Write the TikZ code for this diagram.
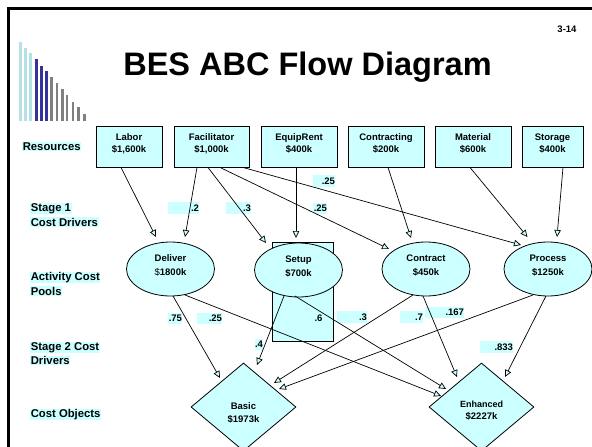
\documentclass[tikz,border=0pt]{standalone}
\usepackage{fontspec}
\setmainfont{Liberation Sans}
\usetikzlibrary{shapes.geometric,arrows.meta}
\definecolor{cyanbg}{HTML}{CCFFFF}
\definecolor{barlight}{HTML}{B4E1E6}
\definecolor{bardark}{HTML}{333399}
\definecolor{bargray}{HTML}{808080}
% highlighted line of a row label
\newcommand\cbg[1]{{\setlength{\fboxsep}{0.6pt}\colorbox{cyanbg}{#1}}}

\begin{document}
\begin{tikzpicture}[x=1pt,y=-1pt,
  resbox/.style={draw, line width=0.9pt, fill=cyanbg, minimum height=41, inner sep=0,
    align=center, text depth=7pt, font=\bfseries\fontsize{9.5}{12}\selectfont},
  pool/.style={ellipse, draw, line width=0.8pt, fill=cyanbg, minimum width=88,
    minimum height=54, inner sep=0, align=center, text depth=8pt,
    font=\bfseries\fontsize{9.5}{14}\selectfont},
  obj/.style={diamond, draw, line width=0.8pt, fill=cyanbg, minimum width=105,
    minimum height=88, inner sep=0},
  objtxt/.style={align=center, inner sep=0, font=\bfseries\fontsize{9.5}{12.5}\selectfont},
  rowlbl/.style={anchor=base west, align=left, inner sep=0,
    font=\bfseries\fontsize{11.3}{14.5}\selectfont},
  wt/.style={fill=cyanbg, inner sep=0, minimum height=11.5, text width=#1, align=right,
    font=\bfseries\fontsize{9.5}{11}\selectfont},
  flow/.style={line width=0.7pt, -{Triangle[length=7pt,width=6.5pt,fill=cyanbg]}},
  bar/.style={line width=2.7pt}
]
\useasboundingbox (0,0) rectangle (592,447);
\fill[white] (0,0) rectangle (592,447);

% slide frame
\draw[line width=2.7pt] (8.7,447) -- (8.7,8.7) -- (592,8.7);

% bar logo
\draw[bar, barlight] (20.3,121) -- (20.3,42);
\draw[bar, barlight] (25.3,121) -- (25.3,48);
\draw[bar, barlight] (30.3,121) -- (30.3,53);
\draw[bar, bardark] (36.3,121) -- (36.3,59);
\draw[bar, bardark] (41.3,121) -- (41.3,66);
\draw[bar, bardark] (46.3,121) -- (46.3,71);
\draw[bar, bargray] (51.3,121) -- (51.3,77);
\draw[bar, bargray] (57,121) -- (57,83);
\draw[bar, bargray] (62.2,121) -- (62.2,89);
\draw[bar, bargray] (67,121) -- (67,95);
\draw[bar, bargray] (73,121) -- (73,102);
\draw[bar, bargray] (78.3,121) -- (78.3,107);
\draw[bar, bargray] (84.3,121) -- (84.3,114);

% title and page number
\node[anchor=base, inner sep=0, font=\bfseries\fontsize{32.5}{36}\selectfont] (title) at (307.5,75) {BES ABC Flow Diagram};
\node[anchor=base, inner sep=0, font=\bfseries\fontsize{9.5}{11}\selectfont] (pgno) at (567,32) {3-14};

% row labels (anchored on the baseline of their last line)
\node[rowlbl] (rres) at (22,150.5) {\cbg{Resources}};
\node[rowlbl] (rst1) at (30,226) {\cbg{Stage 1}\\\cbg{Cost Drivers}};
\node[rowlbl] (rpool) at (30,295) {\cbg{Activity Cost}\\\cbg{Pools}};
\node[rowlbl] (rst2) at (30,364.5) {\cbg{Stage 2 Cost}\\\cbg{Drivers}};
\node[rowlbl] (robj) at (30,417.5) {\cbg{Cost Objects}};

% resources
\node[resbox, minimum width=66] (labor) at (129,146.5) {Labor\\\$1,600k};
\node[resbox, minimum width=75] (facil) at (211.5,146.5) {Facilitator\\\$1,000k};
\node[resbox, minimum width=76] (equip) at (299,146.5) {EquipRent\\\$400k};
\node[resbox, minimum width=76] (contracting) at (386,146.5) {Contracting\\\$200k};
\node[resbox, minimum width=76] (material) at (473,146.5) {Material\\\$600k};
\node[resbox, minimum width=61] (storage) at (552.5,146.5) {Storage\\\$400k};

% panel behind the setup pool
\node[draw, line width=0.8pt, fill=cyanbg, minimum width=61, minimum height=99, inner sep=0,
  anchor=north west] (setupbox) at (272,242) {};

% stage 1 driver shares
\node[wt=31] (d1) at (183.5,208) {.2};
\node[wt=25] (d2) at (238.5,208) {.3};
\node[wt=22] (d3) at (324,181) {.25};
\node[wt=14] (d4) at (320,208.5) {.25};

% stage 2 driver shares
\node[wt=14] (e1) at (175,318.5) {.75};
\node[wt=25] (e2) at (209.5,318.5) {.25};
\node[wt=8] (e3) at (259,344.5) {.4};
\node[wt=9] (e4) at (318,318) {.6};
\node[wt=30] (e5) at (352,317) {.3};
\node[wt=23] (e6) at (411.5,317) {.7};
\node[wt=39] (e7) at (444.5,312.5) {.167};
\node[wt=33] (e8) at (496.5,347) {.833};

% activity cost pools
\node[pool] (deliver) at (170.5,269) {Deliver\\{\mdseries\$}1800k};
\node[pool] (setup) at (298.5,270) {Setup\\\$700k};
\node[pool] (contract) at (426,269) {Contract\\\$450k};
\node[pool] (process) at (548,269) {Process\\\$1250k};

% cost objects
\node[obj] (basic) at (243.5,407) {};
\node[objtxt] (basictxt) at (243.5,413) {Basic\\\$1973k};
\node[obj] (enhanced) at (481.5,407) {};
\node[objtxt] (enhtxt) at (481.5,410.5) {{\fontsize{9}{12.5}\selectfont Enhanced}\\\$2227k};

% stage 1 flows
\draw[flow] ([xshift=-8pt]labor.south) -- ([shift={(-14.5,-32)}]deliver.center);
\draw[flow] ([xshift=-14.5pt]facil.south) -- ([shift={(14.5,-32)}]deliver.center);
\draw[flow] ([xshift=-3.5pt]facil.south) -- ([shift={(-32.5,-27)}]setup.center);
\draw[flow] ([xshift=8.5pt]facil.south) -- ([shift={(-37,-20)}]contract.center);
\draw[flow] ([xshift=31.5pt]facil.south) -- ([shift={(-27,-24)}]process.center);
\draw[flow] ([xshift=-3pt]equip.south) -- ([shift={(-2.5,-32)}]setup.center);
\draw[flow] ([xshift=2pt]contracting.south) -- ([shift={(-15,-31)}]contract.center);
\draw[flow] ([xshift=-3pt]material.south) -- ([shift={(-20.5,-32)}]process.center);
\draw[flow] ([xshift=10.5pt]storage.south) -- ([shift={(9,-32)}]process.center);

% stage 2 flows
\draw[flow] ([shift={(2.5,27)}]deliver.center) -- ([shift={(-23.5,-29)}]basic.center);
\draw[flow] ([shift={(14.5,26)}]deliver.center) -- ([shift={(-40.5,-11)}]enhanced.center);
\draw[flow] ([shift={(-14.5,26)}]setup.center) -- ([shift={(13.5,-42)}]basic.center);
\draw[flow] ([shift={(-3.5,26)}]setup.center) -- ([shift={(-35.5,-18)}]enhanced.center);
\draw[flow] ([shift={(-13,26)}]contract.center) -- ([shift={(30.5,-24)}]basic.center);
\draw[flow] ([shift={(-3,27)}]contract.center) -- ([shift={(-24.5,-30)}]enhanced.center);
\draw[flow] ([shift={(-15,26)}]process.center) -- ([shift={(35.5,-18)}]basic.center);
\draw[flow] ([shift={(-2,27)}]process.center) -- ([shift={(23.5,-30)}]enhanced.center);
\end{tikzpicture}
\end{document}
